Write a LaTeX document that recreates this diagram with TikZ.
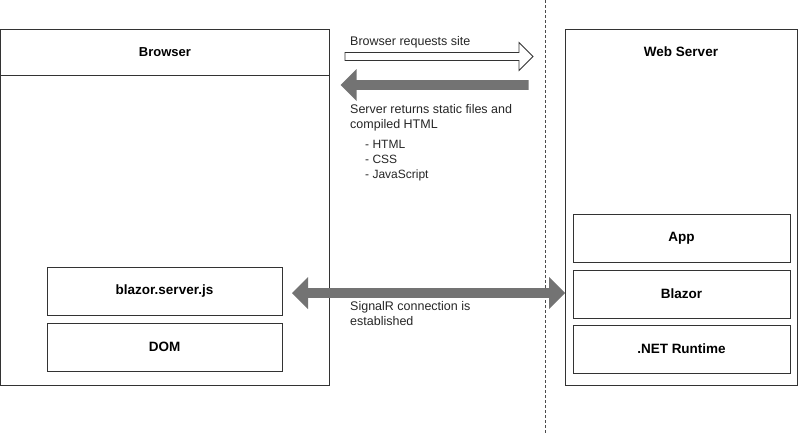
\documentclass[tikz,border=0pt]{standalone}
\usepackage{fontspec}
\setmainfont{Liberation Sans}
\usetikzlibrary{shapes.arrows}
\tikzset{
  box/.style={draw=black!80, fill=white, line width=0.8pt, minimum width=235pt, minimum height=48pt, font=\fontsize{13.5}{16}\selectfont\bfseries},
  note/.style={anchor=north west, align=left, inner sep=0pt, font=\fontsize{12.5}{15}\selectfont, text=black!85},
  garrow/.style={fill=black!55, draw=none, minimum width=32pt, single arrow head extend=0pt}
}
\begin{document}
\begin{tikzpicture}[x=1pt,y=-1pt]
        \useasboundingbox (0,0) rectangle (800,434);

        % dashed divider
        \draw[densely dashed, black!70, line width=0.6pt] (545,0) -- (545,434);

        % browser side
        \draw[black!80, line width=0.8pt] (0.5,29) rectangle (329,385);
        \draw[black!80, line width=0.8pt] (0.5,75) -- (329,75);
        \node[font=\fontsize{13}{15}\selectfont\bfseries] (browser) at (165,52) {Browser};
        \node[box] (js) at (164.5,291.5) {blazor.server.js};
        \node[box] (dom) at (164.5,347) {DOM};

        % server side
        \draw[black!80, line width=0.8pt] (565,29) rectangle (797,385);
        \node[font=\fontsize{13.5}{15}\selectfont\bfseries] (server) at (681,52) {Web Server};
        \node[box, minimum width=217pt] (app) at (681.5,238) {App};
        \node[box, minimum width=217pt] (blazor) at (681.5,294) {Blazor};
        \node[box, minimum width=217pt] (runtime) at (681.5,349) {.NET Runtime};

        % requests
        \node[single arrow, draw=black!80, fill=white, line width=0.8pt, minimum height=188pt, minimum width=28pt, single arrow head extend=9.5pt, inner sep=3.5pt] (req) at (437,56.5) {};
        \node[note] (reqtext) at (350,36) {Browser requests site};

        % response
        \node[single arrow, garrow, shape border rotate=180, minimum height=188pt, single arrow head extend=11pt, inner sep=4.5pt] (resp) at (437,85) {};
        \node[note] (resptext) at (350,104) {Server returns static files and\\compiled HTML};
        \node[note, font=\fontsize{12}{15}\selectfont] (files) at (365,140) {- HTML\\- CSS\\- JavaScript};

        % signalr
        \node[double arrow, garrow, minimum height=273pt, double arrow head extend=11pt, inner sep=4.5pt] (conn) at (428.5,293) {};
        \node[note] (conntext) at (350,301) {SignalR connection is\\established};
\end{tikzpicture}
\end{document}
